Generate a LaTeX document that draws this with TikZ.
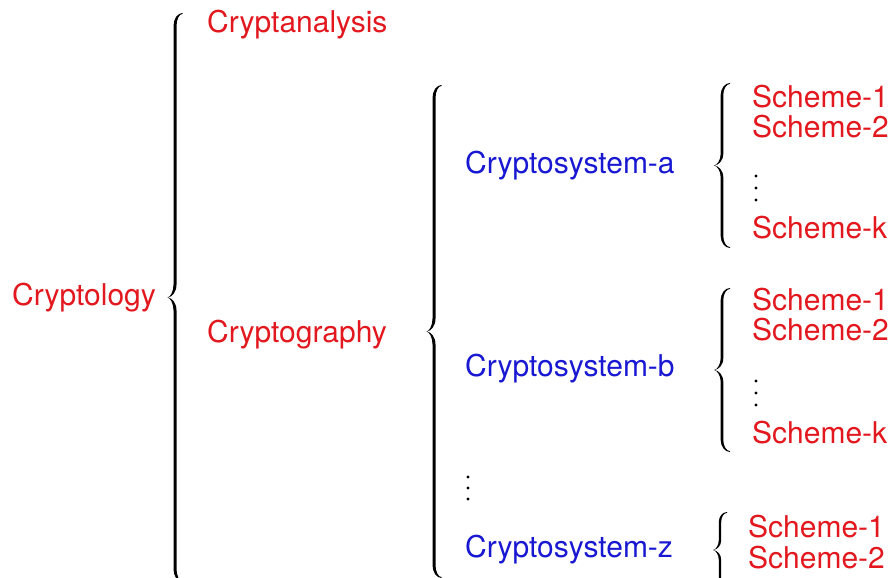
\documentclass[tikz,border=0pt]{standalone}
\usepackage{fontspec}
\setmainfont{TeX Gyre Heros}

\definecolor{labelred}{RGB}{226,24,30}
\definecolor{labelblue}{RGB}{24,24,210}

\tikzset{
  lbl/.style={anchor=base west, inner sep=0pt, font=\fontsize{30}{36}\selectfont},
  redlbl/.style={lbl, text=labelred},
  bluelbl/.style={lbl, text=labelblue},
  bracefill/.style={fill=black},
  vdot/.style={fill=black},
}

% Filled curly brace opening to the right, tip on the left.
% #1 x of the stroke, #2 top y, #3 bottom y, #4 half width,
% #5 length of the bends, #6 stroke thickness
\newcommand\curlybr[6]{%
  \pgfmathsetmacro\bm{(#2+#3)/2}%
  \pgfmathsetmacro\bxl{#1-#6/2}%
  \pgfmathsetmacro\bxr{#1+#6/2}%
  \pgfmathsetmacro\bxe{#1+#4}%
  \pgfmathsetmacro\bxt{#1-#4}%
  \fill[bracefill]
    (\bxe,#2)
      .. controls (\bxe-0.55*\bxe+0.55*\bxl,#2) and (\bxl,#2+0.45*#5) .. (\bxl,#2+#5)
      -- (\bxl,\bm-#5)
      .. controls (\bxl,\bm-0.45*#5) and (\bxt+0.45*\bxl-0.45*\bxt,\bm-0.15) .. (\bxt,\bm)
      .. controls (\bxt+0.45*\bxl-0.45*\bxt,\bm+0.15) and (\bxl,\bm+0.45*#5) .. (\bxl,\bm+#5)
      -- (\bxl,#3-#5)
      .. controls (\bxl,#3-0.45*#5) and (\bxe-0.55*\bxe+0.55*\bxl,#3) .. (\bxe,#3)
      -- (\bxe,#3-0.9)
      .. controls (\bxe-0.55*\bxe+0.55*\bxr,#3-0.9) and (\bxr,#3-0.5*#5) .. (\bxr,#3-#5)
      -- (\bxr,\bm+#5)
      .. controls (\bxr,\bm+0.4*#5) and (\bxt+0.5*\bxr-0.5*\bxt,\bm+0.5) .. (\bxt+0.3,\bm)
      .. controls (\bxt+0.5*\bxr-0.5*\bxt,\bm-0.5) and (\bxr,\bm-0.4*#5) .. (\bxr,\bm-#5)
      -- (\bxr,#2+#5)
      .. controls (\bxr,#2+0.5*#5) and (\bxe-0.55*\bxe+0.55*\bxr,#2+0.9) .. (\bxe,#2+0.9)
      -- cycle;%
}

\begin{document}
\begin{tikzpicture}[x=1pt,y=-1pt]
  \useasboundingbox (0,0) rectangle (892,578);
  \clip (0,0) rectangle (892,578);

  % root and first level
  \node[redlbl] (cryptology)   at (12,305) {Cryptology};
  \node[redlbl] (cryptanalysis) at (207,33) {Cryptanalysis};
  \node[redlbl] (cryptography) at (207,342) {Cryptography};
  \curlybr{175}{13}{582}{7.5}{13}{3}

  % cryptosystems
  \node[bluelbl] (sysa) at (465,173) {Cryptosystem-a};
  \node[bluelbl] (sysb) at (465,376) {Cryptosystem-b};
  \node[bluelbl] (sysz) at (465,557) {Cryptosystem-z};
  \foreach \y in {477,488,499} \fill[vdot] (468,\y) circle (1.6);
  \curlybr{434}{85}{578}{7.5}{13}{3}

  % schemes of cryptosystem-a
  \node[redlbl] (a1) at (752,107) {Scheme-1};
  \node[redlbl] (a2) at (752,137) {Scheme-2};
  \node[redlbl] (ak) at (752,238) {Scheme-k};
  \foreach \y in {176,188,200} \fill[vdot] (756,\y) circle (1.6);
  \curlybr{722}{83}{248}{8}{12}{2.6}

  % schemes of cryptosystem-b
  \node[redlbl] (b1) at (752,310) {Scheme-1};
  \node[redlbl] (b2) at (752,340) {Scheme-2};
  \node[redlbl] (bk) at (752,443) {Scheme-k};
  \foreach \y in {381,393,405} \fill[vdot] (756,\y) circle (1.6);
  \curlybr{722}{288}{452}{8}{12}{2.6}

  % schemes of cryptosystem-z
  \node[redlbl] (z1) at (748,537) {Scheme-1};
  \node[redlbl] (z2) at (748,568) {Scheme-2};
  \curlybr{720}{512}{588}{7}{10}{2.4}
\end{tikzpicture}
\end{document}
